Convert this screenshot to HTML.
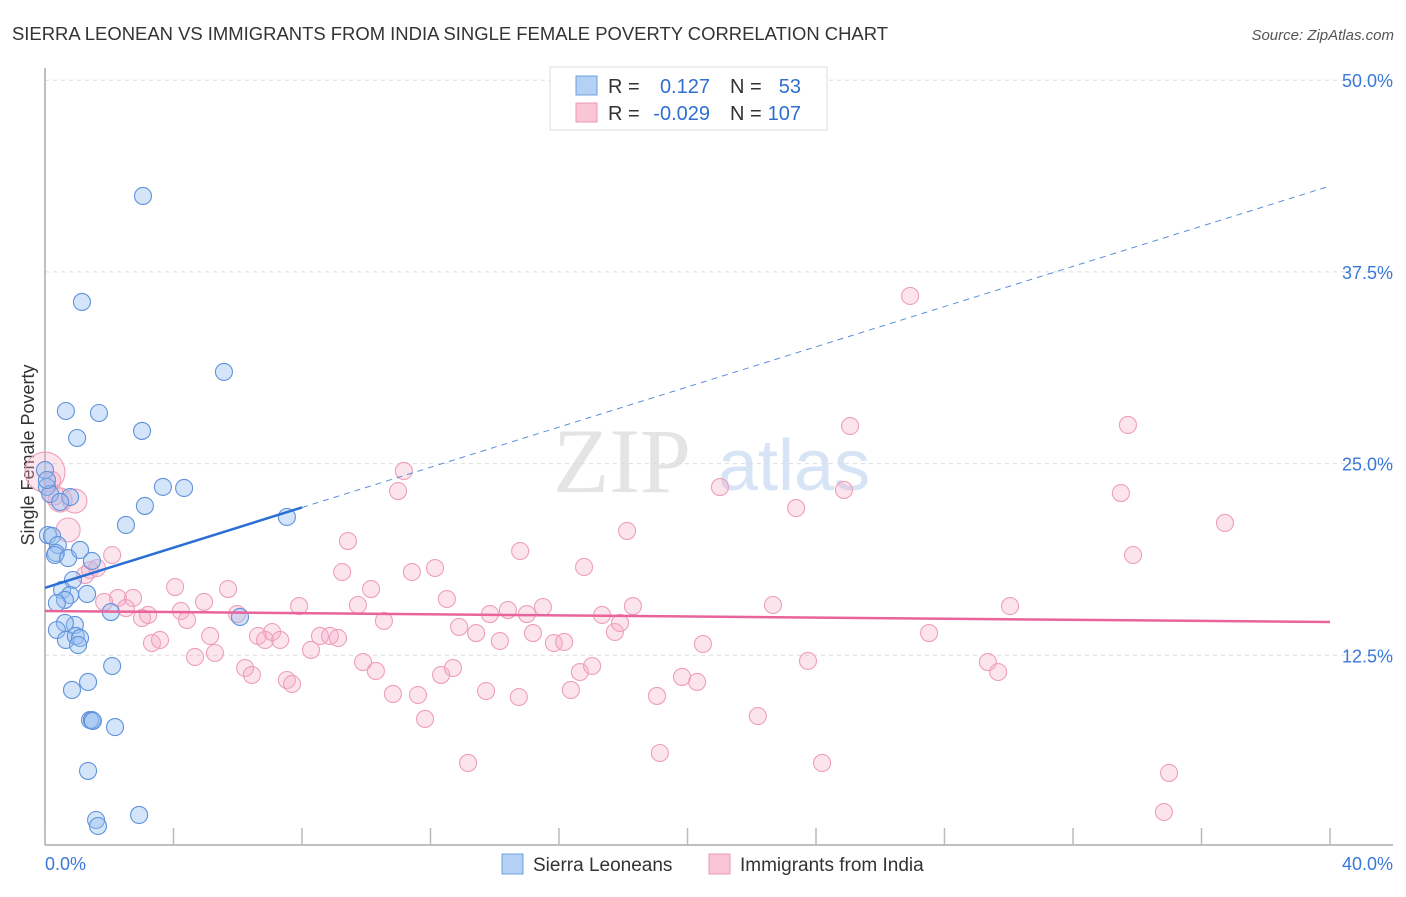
<!DOCTYPE html>
<html><head><meta charset="utf-8"><style>
body{margin:0;background:#fff;font-family:"Liberation Sans",sans-serif;}
</style></head><body>
<svg id="c" width="1406" height="892" xmlns="http://www.w3.org/2000/svg">
<text x="12" y="40" font-size="18" fill="#333" textLength="876" lengthAdjust="spacingAndGlyphs">SIERRA LEONEAN VS IMMIGRANTS FROM INDIA SINGLE FEMALE POVERTY CORRELATION CHART</text>
<text x="1394" y="40" font-size="15" fill="#555" font-style="italic" text-anchor="end">Source: ZipAtlas.com</text>
<text x="553" y="492" font-size="92" fill="#e4e4e4" font-family="Liberation Serif,serif">ZIP</text>
<text x="718" y="490" font-size="72" fill="#d6e4f5">atlas</text>
<text transform="translate(34,455) rotate(-90)" font-size="18" fill="#333" text-anchor="middle">Single Female Poverty</text>
<g id="grid"></g><g id="pts"></g><g id="lines"></g>
<g>
<rect x="550" y="67" width="277" height="63" fill="#fff" stroke="#ddd"/>
<rect x="576" y="76" width="21" height="19" fill="#b4d0f4" stroke="#6f9fe0"/>
<rect x="576" y="103" width="21" height="19" fill="#f9c6d6" stroke="#ec9ab4"/>
<text x="608" y="93" font-size="20" fill="#333">R =</text><text x="710" y="93" font-size="20" fill="#2f6fd0" text-anchor="end">0.127</text>
<text x="730" y="93" font-size="20" fill="#333">N =</text><text x="801" y="93" font-size="20" fill="#2f6fd0" text-anchor="end">53</text>
<text x="608" y="120" font-size="20" fill="#333">R =</text><text x="710" y="120" font-size="20" fill="#2f6fd0" text-anchor="end">-0.029</text>
<text x="730" y="120" font-size="20" fill="#333">N =</text><text x="801" y="120" font-size="20" fill="#2f6fd0" text-anchor="end">107</text>
</g>
<g>
<rect x="502" y="854" width="21" height="20" fill="#b4d0f4" stroke="#6f9fe0"/>
<text x="533" y="871" font-size="19" fill="#333">Sierra Leoneans</text>
<rect x="709" y="854" width="21" height="20" fill="#f9c6d6" stroke="#ec9ab4"/>
<text x="740" y="871" font-size="19" fill="#333">Immigrants from India</text>
</g>
<text x="45" y="870" font-size="18" fill="#3a78d8">0.0%</text>
<text x="1393" y="870" font-size="18" fill="#3a78d8" text-anchor="end">40.0%</text>
</svg>
<script>
const yTicks=[50,37.5,25,12.5];
const yTickLabels=["50.0%","37.5%","25.0%","12.5%"];
const blueX=[3.05,1.15,5.57,0.65,1.68,3.02,1.00,3.67,4.33,3.11,2.52,7.53,0.06,0.16,0.78,0.47,0.09,0.22,0.40,0.34,0.31,0.72,1.09,1.46,0.87,0.53,0.78,0.62,0.37,1.31,2.05,6.07,0.93,0.62,0.37,0.65,0.96,1.09,1.03,2.09,0.84,1.34,1.40,1.46,1.49,2.18,1.34,1.59,1.65,2.93,0,0.06];
const blueY=[42.45,35.54,30.98,28.43,28.30,27.13,26.67,23.48,23.41,22.24,21.00,21.52,23.48,23.02,22.82,22.50,20.34,20.28,19.69,19.17,19.04,18.84,19.37,18.65,17.41,16.76,16.43,16.11,15.91,16.50,15.32,15.00,14.48,14.61,14.15,13.50,13.76,13.63,13.17,11.80,10.24,10.76,8.28,8.28,8.22,7.82,4.96,1.76,1.37,2.09,24.58,23.93];
const pinkX=[0,.47,.93,.72,.28,1.40,1.25,2.09,1.62,2.27,1.84,2.74,2.52,3.02,3.21,4.05,4.23,4.42,4.95,5.14,5.70,5.98,5.29,4.67,3.33,3.58,6.23,6.44,6.63,6.85,7.07,7.32,7.53,7.69,7.91,8.28,8.56,8.87,9.12,9.25,9.43,9.74,9.90,10.15,10.30,10.55,10.83,10.99,11.17,11.42,11.61,11.83,12.14,12.33,12.51,12.70,12.89,13.17,13.42,13.73,13.85,14.16,14.41,14.79,14.75,15.00,15.19,15.50,15.84,16.16,16.37,16.65,16.78,17.03,17.34,17.74,17.90,18.12,18.30,19.05,19.14,19.83,20.30,20.48,21.01,22.19,22.66,23.38,23.75,24.19,24.87,25.06,26.93,27.52,29.35,29.67,30.04,33.49,33.71,33.87,34.99,34.83,36.73,.22];
const pinkY=[24.45,22.63,22.56,20.67,22.95,18.06,17.74,19.04,18.19,16.24,15.98,16.24,15.58,14.93,15.13,16.95,15.39,14.80,15.98,13.76,16.82,15.19,12.65,12.39,13.30,13.50,11.67,11.22,13.76,13.50,14.02,13.50,10.89,10.63,15.71,12.85,13.76,13.76,13.63,17.93,19.95,15.78,12.06,16.82,11.48,14.74,9.98,23.21,24.52,17.93,9.91,8.35,18.19,11.22,16.17,11.67,14.35,5.48,13.95,10.17,15.19,13.43,15.45,19.30,9.78,15.19,13.95,15.65,13.30,13.37,10.24,11.41,18.26,11.80,15.13,14.02,14.61,20.61,15.71,9.85,6.13,11.09,10.76,13.24,23.47,8.54,15.78,22.10,12.13,5.48,23.28,27.45,35.93,13.95,12.06,11.41,15.71,23.08,27.52,19.04,4.83,2.28,21.13,23.93];
const pinkSize=[20,12,12,12,10];
const blueTrend=[16.9,43.1];
const pinkTrend=[15.39,14.67];
const NS="http://www.w3.org/2000/svg";
const sx=v=>45+v/40*1285, sy=v=>847-v/12.5*191.7;
function mk(tag,attrs,parent){const e=document.createElementNS(NS,tag);for(const k in attrs)e.setAttribute(k,attrs[k]);parent.appendChild(e);return e;}
const g=document.getElementById('grid'),P=document.getElementById('pts'),L=document.getElementById('lines');
yTicks.forEach((t,i)=>{
 const ln=mk('line',{x1:45,x2:1393,y1:sy(t),y2:sy(t),stroke:'#ddd','stroke-dasharray':'4,4'},g);
 
 
 const tx=mk('text',{x:1393,y:sy(t)+7,'font-size':18,fill:'#3a78d8','text-anchor':'end'},g);
 tx.textContent=yTickLabels[i];
 
 
});
mk('line',{x1:45,x2:45,y1:68,y2:845,stroke:'#aaa','stroke-width':1.5},g);
mk('line',{x1:45,x2:1393,y1:845,y2:845,stroke:'#aaa','stroke-width':1.5},g);
for(let i=0;i<=10;i++){const t=mk('line',{x1:sx(i*4),x2:sx(i*4),y1:828,y2:845,stroke:'#bbb','stroke-width':1.5},g);
 
 }
pinkX.forEach((x,i)=>{const c=mk('circle',{cx:sx(x),cy:sy(pinkY[i]),r:pinkSize[i]||8.5,fill:'rgba(246,172,198,0.32)',stroke:'#ee9fba','stroke-width':1.1},P);
 
 });
blueX.forEach((x,i)=>{const c=mk('circle',{cx:sx(x),cy:sy(blueY[i]),r:8.5,fill:'rgba(150,190,240,0.4)',stroke:'#5f92dc','stroke-width':1.1},P);
 
 });
const by=x=>blueTrend[0]+(blueTrend[1]-blueTrend[0])*x/40;
const b1=mk('line',{x1:sx(0),y1:sy(by(0)),x2:sx(8),y2:sy(by(8)),stroke:'#2a6fd6','stroke-width':2.5},L);


const b2=mk('line',{x1:sx(8),y1:sy(by(8)),x2:sx(40),y2:sy(by(40)),stroke:'#5a8edb','stroke-width':1,'stroke-dasharray':'6,5'},L);


const p1=mk('line',{x1:sx(0),y1:sy(pinkTrend[0]),x2:sx(40),y2:sy(pinkTrend[1]),stroke:'#e8649a','stroke-width':2.5},L);


</script>
</body></html>
